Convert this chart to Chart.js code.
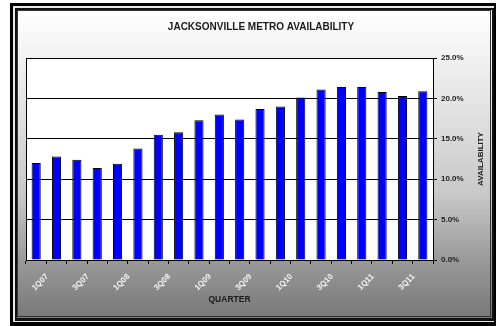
<!DOCTYPE html>
<html>
<head>
<meta charset="utf-8">
<script src="https://cdn.jsdelivr.net/npm/chart.js@4.4.1/dist/chart.umd.min.js"></script>
<style>
  html, body { margin: 0; padding: 0; background: #fff; }
  #wrap { width: 496px; height: 326px; }
</style>
</head>
<body>
<div id="wrap"><canvas id="chart" width="496" height="326"></canvas></div>
<script>
const quarters = [
    "1Q07", "2Q07", "3Q07", "4Q07",
    "1Q08", "2Q08", "3Q08", "4Q08",
    "1Q09", "2Q09", "3Q09", "4Q09",
    "1Q10", "2Q10", "3Q10", "4Q10",
    "1Q11", "2Q11", "3Q11", "4Q11"
];
const availability = [
    12.0, 12.8, 12.4, 11.4,
    11.9, 13.8, 15.5, 15.8,
    17.3, 18.0, 17.4, 18.7,
    19.0, 20.1, 21.1, 21.4,
    21.4, 20.8, 20.3, 20.9
];
const yMin = 0;
const yMax = 25;
const yStep = 5;

const chartTitle = "JACKSONVILLE METRO AVAILABILITY";
const xTitle = "QUARTER";
const yTitle = "AVAILABILITY";

const FONT = "'Liberation Sans', Arial, sans-serif";

// frame, gradient panel and white plot area
const framePlugin = {
    id: "frame",
    beforeDraw(chart) {
        const ctx = chart.ctx;
        const area = chart.chartArea;
        ctx.save();
        ctx.fillStyle = "#fff";
        ctx.fillRect(0, 0, 496, 326);

        ctx.fillStyle = "#000";
        ctx.fillRect(10, 3, 486, 323);
        ctx.fillStyle = "#e8e8e8";
        ctx.fillRect(13, 6, 481, 316);
        ctx.fillStyle = "#111";
        ctx.fillRect(15, 8, 479, 313);

        const grad = ctx.createLinearGradient(0, 10, 0, 318);
        grad.addColorStop(0, "#ffffff");
        grad.addColorStop(0.3, "#e4e4e4");
        grad.addColorStop(0.6, "#c8c8c8");
        grad.addColorStop(0.8, "#9c9c9c");
        grad.addColorStop(1, "#787878");
        ctx.fillStyle = grad;
        ctx.fillRect(17, 10, 475, 308);

        ctx.strokeStyle = "#333";
        ctx.lineWidth = 1;
        ctx.strokeRect(17.5, 10.5, 473, 306);

        ctx.fillStyle = "#fff";
        ctx.fillRect(area.left, area.top, area.right - area.left, area.bottom - area.top);
        ctx.restore();
    },
    afterDraw(chart) {
        const ctx = chart.ctx;
        const area = chart.chartArea;
        ctx.save();
        ctx.strokeStyle = "#000";
        ctx.lineWidth = 1;
        ctx.beginPath();
        ctx.moveTo(Math.round(area.left) + 0.5, area.top);
        ctx.lineTo(Math.round(area.left) + 0.5, area.bottom);
        ctx.stroke();

        // right axis title reads bottom to top
        ctx.fillStyle = "#1a1a1a";
        ctx.font = "bold 8px " + FONT;
        ctx.textAlign = "center";
        ctx.textBaseline = "middle";
        ctx.translate(481, (area.top + area.bottom) / 2);
        ctx.rotate(-Math.PI / 2);
        ctx.fillText(yTitle, 0, 0);
        ctx.restore();
    }
};

new Chart(document.getElementById("chart").getContext("2d"), {
    type: "bar",
    data: {
        labels: quarters,
        datasets: [
            {
                label: "Availability",
                data: availability,
                backgroundColor: "#0000ff",
                borderColor: "#000",
                borderWidth: 1,
                categoryPercentage: 1,
                barPercentage: 0.45,
            },
        ],
    },
    options: {
        responsive: false,
        animation: false,
        devicePixelRatio: 1,
        layout: { padding: { left: 26, right: 0, top: 0, bottom: 0 } },
        plugins: {
            legend: { display: false },
            tooltip: { enabled: false },
            title: {
                display: true,
                text: chartTitle,
                color: "#1a1a1a",
                font: { family: FONT, size: 10, weight: "bold", lineHeight: 1.2 },
                padding: { top: 21, bottom: 25 },
            },
        },
        scales: {
            x: {
                position: "bottom",
                afterFit: (scale) => { scale.height = 66; },
                grid: {
                    offset: true,
                    drawOnChartArea: false,
                    drawTicks: true,
                    tickLength: 4,
                    color: "#000",
                },
                border: { display: true, color: "#000" },
                ticks: {
                    autoSkip: false,
                    minRotation: 45,
                    maxRotation: 45,
                    labelOffset: 11,
                    padding: 8,
                    color: "#f4f4f4",
                    font: { family: FONT, size: 8, weight: "bold" },
                    callback: (value, index) => (index % 2 === 0 ? quarters[index] : ""),
                },
                title: {
                    display: true,
                    text: xTitle,
                    color: "#1a1a1a",
                    font: { family: FONT, size: 8.5, weight: "bold", lineHeight: 1.2 },
                    padding: { top: 0, bottom: 21 },
                },
            },
            y: {
                position: "right",
                min: yMin,
                max: yMax,
                afterFit: (scale) => { scale.width = 63; },
                grid: {
                    color: "#000",
                    lineWidth: 1,
                    drawTicks: true,
                    tickLength: 4,
                },
                border: { display: true, color: "#000" },
                ticks: {
                    stepSize: yStep,
                    padding: 4,
                    color: "#222",
                    font: { family: FONT, size: 8, weight: "bold" },
                    callback: (value) => value.toFixed(1) + "%",
                },
            },
        },
    },
    plugins: [framePlugin],
});
</script>
</body>
</html>
